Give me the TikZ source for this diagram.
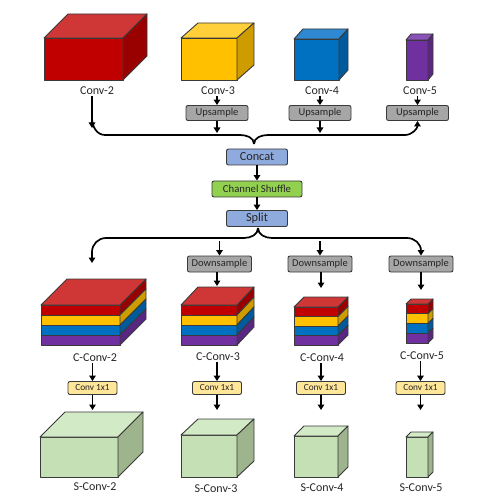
\documentclass[tikz,border=0pt]{standalone}
\usepackage{fontspec}
\setmainfont{Carlito}
\usetikzlibrary{arrows.meta}
\definecolor{redF}{HTML}{C00000}\definecolor{redT}{HTML}{CF3636}\definecolor{redS}{HTML}{990000}
\definecolor{yelF}{HTML}{FFC000}\definecolor{yelT}{HTML}{FFD03A}\definecolor{yelS}{HTML}{CF9C00}
\definecolor{bluF}{HTML}{0070C0}\definecolor{bluT}{HTML}{2E88D2}\definecolor{bluS}{HTML}{005A9C}
\definecolor{purF}{HTML}{7030A0}\definecolor{purT}{HTML}{8A52B8}\definecolor{purS}{HTML}{5A2684}
\definecolor{grnF}{HTML}{C5E0B4}\definecolor{grnT}{HTML}{D3EAC6}\definecolor{grnS}{HTML}{9DB48D}
\definecolor{grayB}{HTML}{A6A6A6}\definecolor{blueB}{HTML}{8FAADC}\definecolor{greenB}{HTML}{92D050}
\definecolor{yelB}{HTML}{FFE699}\definecolor{txt}{HTML}{262626}\definecolor{edge}{HTML}{3A3A3A}
\newcommand\mycube[9]{%
  \filldraw[fill=#7,cubeline] (#1,#2) rectangle (#3,#4);
  \filldraw[fill=#8,cubeline] (#1,#2) -- ++(#5,-#6) -- ++(#3-#1,0) -- (#3,#2) -- cycle;
  \filldraw[fill=#9,cubeline] (#3,#2) -- ++(#5,-#6) -- ++(0,#4-#2) -- (#3,#4) -- cycle;
}
\newcommand\mystack[6]{%
  \foreach \c/\s [count=\i from 0] in {redF/redS,yelF/yelS,bluF/bluS,purF/purS}{%
    \filldraw[fill=\c,cubeline] (#1,#2+\i*#4) rectangle (#3,#2+\i*#4+#4);
    \filldraw[fill=\s,cubeline] (#3,#2+\i*#4) -- ++(#5,-#6) -- ++(0,#4) -- (#3,#2+\i*#4+#4) -- cycle;
  }
  \filldraw[fill=redT,cubeline] (#1,#2) -- ++(#5,-#6) -- (#3+#5,#2-#6) -- (#3,#2) -- cycle;
}
\begin{document}
\begin{tikzpicture}[x=1pt,y=-1pt,
  cubeline/.style={draw=edge,line width=0.9pt,line join=round},
  lab/.style={text=txt,inner sep=1pt,font=\fontsize{12}{14}\selectfont},
  opbox/.style={draw=edge,line width=0.9pt,rounded corners=2pt,inner sep=0pt,text=txt,minimum height=#1},
  opbox/.default=15pt,
  graybox/.style={opbox,fill=grayB,minimum width=62pt,font=\fontsize{10.5}{12}\selectfont},
  bluebox/.style={opbox=16pt,fill=blueB,minimum width=61pt,font=\fontsize{12.3}{14}\selectfont},
  greenbox/.style={opbox=16pt,fill=greenB,minimum width=90pt,font=\fontsize{10.7}{12}\selectfont},
  yelbox/.style={opbox=13pt,fill=yelB,minimum width=49pt,font=\fontsize{9.3}{11}\selectfont},
  arr/.style={line width=1.7pt,-{Triangle[width=6.5pt,length=5.5pt]}},
  brace/.style={line width=1.7pt}]
\useasboundingbox (0,0) rectangle (477,502);
% top cubes
\mycube{44}{38}{123}{80}{24}{24}{redF}{redT}{redS}
\mycube{181}{38}{237}{80}{17}{15}{yelF}{yelT}{yelS}
\mycube{294}{39}{339}{80}{9}{10}{bluF}{bluT}{bluS}
\mycube{406}{40}{428}{80}{5}{6}{purF}{purT}{purS}
\node[lab] (l2) at (97,91) {Conv-2};
\node[lab] (l3) at (218,91) {Conv-3};
\node[lab] (l4) at (322,91) {Conv-4};
\node[lab] (l5) at (420,91) {Conv-5};
\node[graybox] (up3) at (217,113) {Upsample};
\node[graybox] (up4) at (320,113) {Upsample};
\node[graybox] (up5) at (417.5,113) {Upsample};
\draw[arr] (l3.south -| up3) -- (up3.north);
\draw[arr] (l4.south -| up4) -- (up4.north);
\draw[arr] (l5.south -| up5) -- (up5.north);
\coordinate (b2) at (92,128);
\draw[arr] (l2.south -| b2) -- (b2);
\coordinate (m3) at (217,133);
\coordinate (m4) at (320,133);
\draw[arr] (up3.south) -- (m3);
\draw[arr] (up4.south) -- (m4);
\coordinate (cusp) at (254,144);
\draw[brace] (92,118) to[out=-90,in=180] (105,135) -- (240,135) to[out=0,in=90] (cusp);
\draw[brace,arr] (cusp) to[out=90,in=180] (268,135) -- (405,135) to[out=0,in=-90] (up5.south);
% middle
\node[bluebox] (concat) at (257,157) {Concat};
\node[greenbox] (shuf) at (257,189) {Channel Shuffle};
\node[bluebox] (split) at (257,218.5) {Split};
\draw[arr] (concat) -- (shuf);
\draw[arr] (shuf) -- (split);
% lower brace
\node[graybox,minimum height=16pt,minimum width=64pt] (dn3) at (219.5,264) {Downsample};
\node[graybox,minimum height=16pt,minimum width=64pt] (dn4) at (320,264) {Downsample};
\node[graybox,minimum height=16pt,minimum width=64pt] (dn5) at (421,264) {Downsample};
\coordinate (lc) at (258,228);
\coordinate (c2) at (92,263);
\draw[brace,arr] (lc) to[out=-90,in=0] (244,238) -- (106,238) to[out=180,in=90] (92,252) -- (c2);
\draw[brace,arr] (lc) to[out=-90,in=180] (272,238) -- (407,238) to[out=0,in=90] (421,251) -- (dn5.north);
\draw[arr] (dn3.north |- 0,241) -- (dn3.north);
\draw[arr] (dn4.north |- 0,241) -- (dn4.north);
% stacks
\mystack{41}{305}{120}{10}{26}{26}
\mystack{181}{305}{237}{10}{17}{18}
\mystack{294}{307}{338}{9.5}{10}{10}
\mystack{406}{304}{428}{9.75}{5}{5}
\coordinate (t3) at (217,286);
\coordinate (t4) at (321,288);
\coordinate (t5) at (421,290);
\draw[arr] (dn3.south -| t3) -- (t3);
\draw[arr] (dn4.south -| t4) -- (t4);
\draw[arr] (dn5.south -| t5) -- (t5);
\node[lab] (cl2) at (95,358) {C-Conv-2};
\node[lab] (cl3) at (218,357) {C-Conv-3};
\node[lab] (cl4) at (322,358) {C-Conv-4};
\node[lab] (cl5) at (422,356) {C-Conv-5};
\node[yelbox] (k2) at (92.5,388) {Conv 1x1};
\node[yelbox] (k3) at (217,388) {Conv 1x1};
\node[yelbox] (k4) at (321,388) {Conv 1x1};
\node[yelbox] (k5) at (420.5,388) {Conv 1x1};
\draw[arr] (cl2.south -| k2) -- (k2.north);
\draw[arr] (cl3.south -| k3) -- (k3.north);
\draw[arr] (cl4.south -| k4) -- (k4.north);
\draw[arr] (cl5.south -| k5) -- (k5.north);
% bottom cubes
\mycube{40}{437}{118}{477}{25}{25}{grnF}{grnT}{grnS}
\mycube{181}{435}{237}{477}{17}{16}{grnF}{grnT}{grnS}
\mycube{294}{436}{338}{477}{10}{10}{grnF}{grnT}{grnS}
\mycube{406}{437}{428}{477}{5}{5}{grnF}{grnT}{grnS}
\coordinate (s2) at (92.5,410);
\coordinate (s3) at (217,410);
\coordinate (s4) at (321,410);
\coordinate (s5) at (420.5,410);
\draw[arr] (k2.south) -- (s2);
\draw[arr] (k3.south) -- (s3);
\draw[arr] (k4.south) -- (s4);
\draw[arr] (k5.south) -- (s5);
\node[lab] (sl2) at (95,487) {S-Conv-2};
\node[lab] (sl3) at (216,489) {S-Conv-3};
\node[lab] (sl4) at (322,488) {S-Conv-4};
\node[lab] (sl5) at (421,488) {S-Conv-5};
\end{tikzpicture}
\end{document}
